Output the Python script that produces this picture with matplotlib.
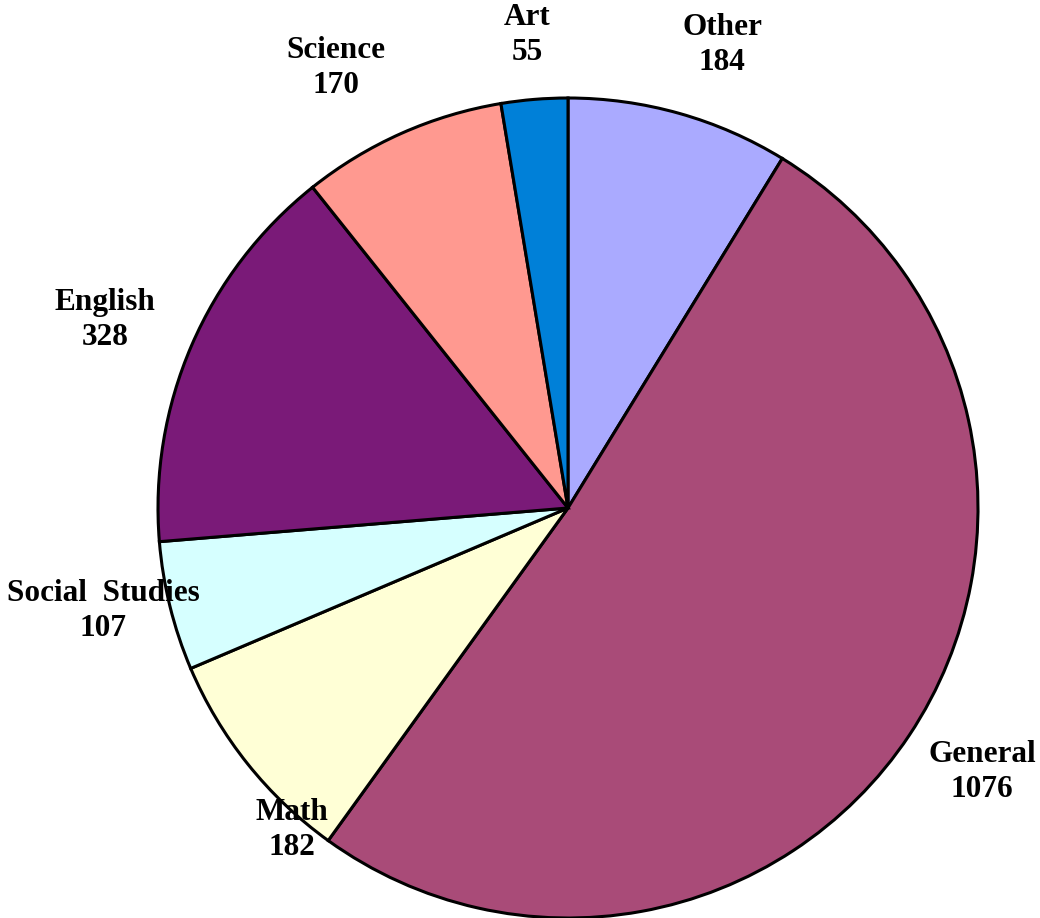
import matplotlib
matplotlib.use("Agg")
import matplotlib.pyplot as plt

categories = ["Other", "General", "Math", "Social  Studies", "English", "Science", "Art"]
values = [184, 1076, 182, 107, 328, 170, 55]
colors = ["#AAAAFF", "#A94B78", "#FFFFD6", "#D6FFFF", "#7A1A78", "#FF9990", "#0080D8"]
# label centre positions in pie-radius units (layout only)
label_pos = [(0.376, 1.129), (1.010, -0.644), (-0.673, -0.785), (-1.134, -0.251),
             (-1.129, 0.459), (-0.566, 1.073), (-0.10, 1.154)]

W, H = 1040, 918
cx, cy, R = 568, 508, 410
fig = plt.figure(figsize=(W / 100, H / 100), dpi=100)
ax = fig.add_axes([0, 0, 1, 1])
ax.pie(values, colors=colors, startangle=90, counterclock=False, radius=1.0,
       wedgeprops=dict(edgecolor="black", linewidth=2.2))
ax.set_xlim(-cx / R, (W - cx) / R)
ax.set_ylim(-(H - cy) / R, cy / R)
ax.set_aspect("equal")
ax.axis("off")

for name, v, (x, y) in zip(categories, values, label_pos):
    ax.text(x, y, f"{name}\n{v}", ha="center", va="center", fontsize=22.5,
            fontweight="bold", family="Liberation Serif", linespacing=1.3)

fig.savefig("out.png", dpi=100, facecolor="white")
